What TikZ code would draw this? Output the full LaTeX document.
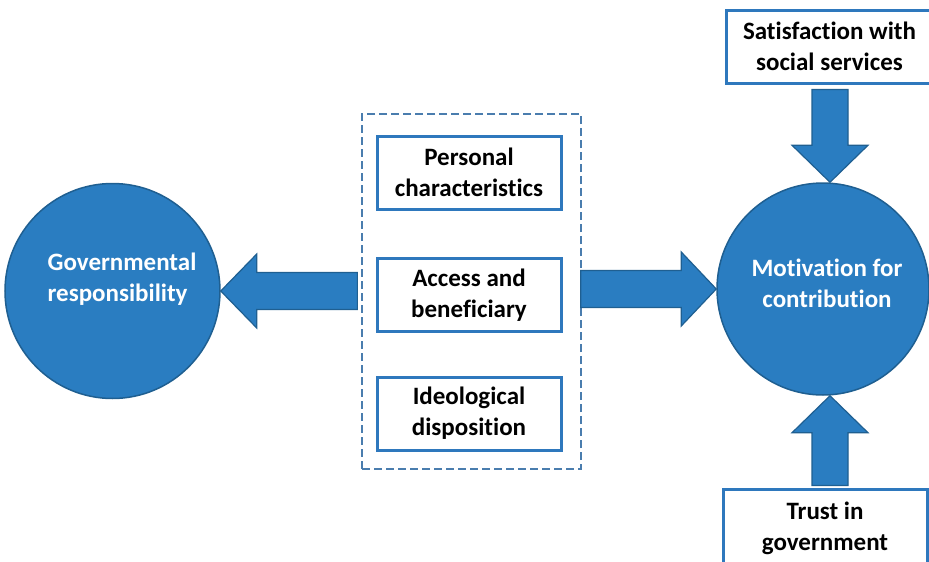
\documentclass[tikz,border=0pt]{standalone}
\usepackage{fontspec}
\setmainfont[Ligatures={NoCommon}]{Carlito}
\usetikzlibrary{calc}
\definecolor{fillblue}{HTML}{2A7DC1}
\definecolor{edgeblue}{HTML}{1F5F91}
\definecolor{boxblue}{HTML}{2E78BD}
\definecolor{dashblue}{HTML}{4A7DAE}
\begin{document}
\begin{tikzpicture}[x=1pt,y=-1pt,
  txt/.style={font=\bfseries\fontsize{25}{31}\selectfont},
  circ/.style={circle, fill=fillblue, draw=edgeblue, line width=1.5pt, minimum size=#1, inner sep=0pt},
  circtext/.style={txt, text=white, inner sep=0pt},
  factor/.style={txt, draw=boxblue, line width=3pt, fill=white, minimum width=184pt, minimum height=73pt, inner sep=0pt, align=center, text=black},
  sidebox/.style={txt, draw=boxblue, line width=3pt, fill=white, inner sep=0pt, align=center, text=black},
  blockarrow/.style={fill=fillblue, draw=edgeblue, line width=1.2pt, line join=miter},
  groupbox/.style={draw=dashblue, line width=1.3pt, dash pattern=on 8pt off 4pt, minimum width=219pt, minimum height=355pt, inner sep=0pt}
]
\useasboundingbox (0,0) rectangle (929,562);
\clip (0,0) rectangle (929,562);

% dashed group box
\node[groupbox] (group) at (471.5,291.5) {};

% factor boxes
\node[factor] (pers) at (469,172.5) {Personal\\characteristics};
\node[factor] (access) at (469,295) {Access and\\beneficiary};
\node[factor] (ideo) at (469,413.5) {Ideological\\disposition};

% circles
\node[circ=215pt, label={[circtext, align=left, xshift=9.5pt, yshift=12pt]center:Governmental\\responsibility}] (gov) at (112.5,291) {};
\node[circ=212pt, label={[circtext, align=center, xshift=4pt, yshift=6pt]center:Motivation for\\contribution}] (motiv) at (823,289) {};

% side boxes
\node[sidebox, minimum width=207pt, minimum height=73pt] (satis) at (829.5,46.5) {Satisfaction with\\social services};
\node[sidebox, minimum width=204pt, minimum height=78pt] (trust) at (825,528) {Trust in\\government};

% left block arrow: group -> gov
\coordinate (lshaft) at ($(group.west)+(-4,0)$);
\draw[blockarrow] (gov.east) -- ++(36,-37) -- ++(0,18.5) coordinate (la)
  -- (lshaft |- la) -- ++(0,37) coordinate (lb)
  -- ($(gov.east)+(36,18.5)$) -- ++(0,18.5) -- cycle;

% right block arrow: group -> motiv
\coordinate (rshaft) at ($(group.east)+(-1,0)$);
\draw[blockarrow] (motiv.west) -- ++(-35,-37) -- ++(0,18.5) coordinate (ra)
  -- (rshaft |- ra) -- ++(0,37) coordinate (rb)
  -- ($(motiv.west)+(-35,18.5)$) -- ++(0,18.5) -- cycle;

% top block arrow: satis -> motiv
\coordinate (ttip) at ($(motiv.north)+(7,0)$);
\coordinate (tshaft) at ($(satis.south)+(0,5)$);
\draw[blockarrow] (ttip) -- ++(-38,-37) -- ++(20,0) coordinate (ta)
  -- (ta |- tshaft) -- ++(36,0) coordinate (tb)
  -- ($(ttip)+(18,-37)$) -- ++(20,0) -- cycle;

% bottom block arrow: trust -> motiv
\coordinate (btip) at ($(motiv.south)+(7,0)$);
\coordinate (bshaft) at ($(trust.north)+(0,-2)$);
\draw[blockarrow] (btip) -- ++(-38,37) -- ++(20,0) coordinate (ba)
  -- (ba |- bshaft) -- ++(36,0) coordinate (bb)
  -- ($(btip)+(18,37)$) -- ++(20,0) -- cycle;
\end{tikzpicture}
\end{document}
